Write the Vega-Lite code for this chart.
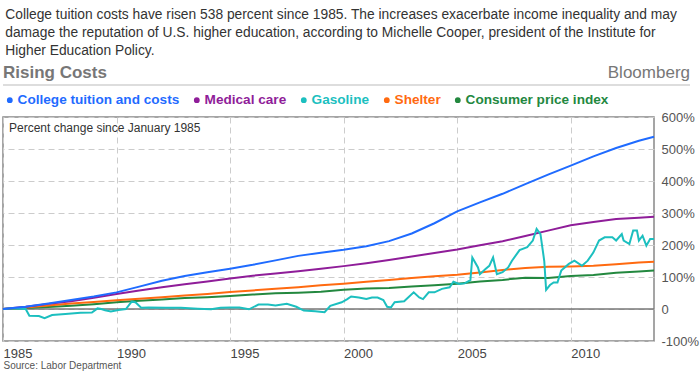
{
  "$schema": "https://vega.github.io/schema/vega-lite/v6.json",
  "padding": {"left": -2, "right": 0, "top": 8, "bottom": 0},
  "background": "white",
  "spacing": 6,
  "resolve": {"scale": {"color": "independent"}, "legend": {"color": "independent"}},
  "config": {
    "font": "Liberation Sans",
    "view": {"stroke": null}
  },
  "title": {
    "text": [
      "College tuition costs have risen 538 percent since 1985. The increases exacerbate income inequality and may",
      "damage the reputation of U.S. higher education, according to Michelle Cooper, president of the Institute for",
      "Higher Education Policy."
    ],
    "anchor": "start",
    "font": "Liberation Sans",
    "fontSize": 13.8,
    "fontWeight": "normal",
    "color": "#333333",
    "lineHeight": 18,
    "offset": 3,
    "dx": 7
  },
  "vconcat": [
    {
      "width": 687,
      "height": 24,
      "view": {"stroke": null},
      "data": {"values": [{"left": "Rising Costs", "right": "Bloomberg"}]},
      "layer": [
        {
          "mark": {"type": "rule", "color": "#dddddd", "strokeWidth": 2},
          "encoding": {
            "x": {"datum": 0, "type": "quantitative", "scale": {"domain": [0, 1]}, "axis": null},
            "x2": {"datum": 1},
            "y": {"datum": 0, "type": "quantitative", "scale": {"domain": [0, 1]}, "axis": null}
          }
        },
        {
          "mark": {"type": "text", "align": "left", "baseline": "alphabetic", "dy": -7, "fontSize": 17, "fontWeight": "bold", "color": "#777777"},
          "encoding": {
            "x": {"datum": 0, "type": "quantitative"},
            "y": {"datum": 0, "type": "quantitative"},
            "text": {"field": "left"}
          }
        },
        {
          "mark": {"type": "text", "align": "right", "baseline": "alphabetic", "dy": -7, "fontSize": 17, "fontWeight": "normal", "color": "#777777"},
          "encoding": {
            "x": {"datum": 1, "type": "quantitative"},
            "y": {"datum": 0, "type": "quantitative"},
            "text": {"field": "right"}
          }
        }
      ]
    },
    {
      "width": 651,
      "height": 224,
      "view": {"stroke": "#888888", "strokeWidth": 1.5},
      "data": {"values": [
        {"date": "1985-01-01", "series": "Consumer price index", "value": 0},
        {"date": "1986-01-01", "series": "Consumer price index", "value": 3},
        {"date": "1987-01-01", "series": "Consumer price index", "value": 6},
        {"date": "1988-01-01", "series": "Consumer price index", "value": 10},
        {"date": "1989-01-01", "series": "Consumer price index", "value": 15},
        {"date": "1990-01-01", "series": "Consumer price index", "value": 21},
        {"date": "1991-01-01", "series": "Consumer price index", "value": 26},
        {"date": "1992-01-01", "series": "Consumer price index", "value": 30},
        {"date": "1993-01-01", "series": "Consumer price index", "value": 34},
        {"date": "1994-01-01", "series": "Consumer price index", "value": 37},
        {"date": "1995-01-01", "series": "Consumer price index", "value": 41},
        {"date": "1996-01-01", "series": "Consumer price index", "value": 45},
        {"date": "1997-01-01", "series": "Consumer price index", "value": 49},
        {"date": "1998-01-01", "series": "Consumer price index", "value": 51},
        {"date": "1999-01-01", "series": "Consumer price index", "value": 54},
        {"date": "2000-01-01", "series": "Consumer price index", "value": 60},
        {"date": "2001-01-01", "series": "Consumer price index", "value": 64},
        {"date": "2002-01-01", "series": "Consumer price index", "value": 66},
        {"date": "2003-01-01", "series": "Consumer price index", "value": 70},
        {"date": "2004-01-01", "series": "Consumer price index", "value": 74},
        {"date": "2005-01-01", "series": "Consumer price index", "value": 79},
        {"date": "2006-01-01", "series": "Consumer price index", "value": 86},
        {"date": "2007-01-01", "series": "Consumer price index", "value": 91},
        {"date": "2008-01-01", "series": "Consumer price index", "value": 98},
        {"date": "2009-01-01", "series": "Consumer price index", "value": 97},
        {"date": "2010-01-01", "series": "Consumer price index", "value": 103},
        {"date": "2011-01-01", "series": "Consumer price index", "value": 106},
        {"date": "2012-01-01", "series": "Consumer price index", "value": 113},
        {"date": "2013-01-01", "series": "Consumer price index", "value": 117},
        {"date": "2013-09-01", "series": "Consumer price index", "value": 120},

        {"date": "1985-01-01", "series": "Shelter", "value": 0},
        {"date": "1986-01-01", "series": "Shelter", "value": 5},
        {"date": "1987-01-01", "series": "Shelter", "value": 11},
        {"date": "1988-01-01", "series": "Shelter", "value": 17},
        {"date": "1989-01-01", "series": "Shelter", "value": 22},
        {"date": "1990-01-01", "series": "Shelter", "value": 27},
        {"date": "1991-01-01", "series": "Shelter", "value": 32},
        {"date": "1992-01-01", "series": "Shelter", "value": 37},
        {"date": "1993-01-01", "series": "Shelter", "value": 42},
        {"date": "1994-01-01", "series": "Shelter", "value": 47},
        {"date": "1995-01-01", "series": "Shelter", "value": 53},
        {"date": "1996-01-01", "series": "Shelter", "value": 58},
        {"date": "1997-01-01", "series": "Shelter", "value": 63},
        {"date": "1998-01-01", "series": "Shelter", "value": 68},
        {"date": "1999-01-01", "series": "Shelter", "value": 74},
        {"date": "2000-01-01", "series": "Shelter", "value": 79},
        {"date": "2001-01-01", "series": "Shelter", "value": 85},
        {"date": "2002-01-01", "series": "Shelter", "value": 91},
        {"date": "2003-01-01", "series": "Shelter", "value": 97},
        {"date": "2004-01-01", "series": "Shelter", "value": 102},
        {"date": "2005-01-01", "series": "Shelter", "value": 107},
        {"date": "2006-01-01", "series": "Shelter", "value": 114},
        {"date": "2007-01-01", "series": "Shelter", "value": 122},
        {"date": "2008-01-01", "series": "Shelter", "value": 128},
        {"date": "2009-01-01", "series": "Shelter", "value": 132},
        {"date": "2010-01-01", "series": "Shelter", "value": 133},
        {"date": "2011-01-01", "series": "Shelter", "value": 135},
        {"date": "2012-01-01", "series": "Shelter", "value": 140},
        {"date": "2013-01-01", "series": "Shelter", "value": 145},
        {"date": "2013-09-01", "series": "Shelter", "value": 148},

        {"date": "1985-01-01", "series": "Medical care", "value": 0},
        {"date": "1986-01-01", "series": "Medical care", "value": 7},
        {"date": "1987-01-01", "series": "Medical care", "value": 16},
        {"date": "1988-01-01", "series": "Medical care", "value": 24},
        {"date": "1989-01-01", "series": "Medical care", "value": 35},
        {"date": "1990-01-01", "series": "Medical care", "value": 47},
        {"date": "1991-01-01", "series": "Medical care", "value": 58},
        {"date": "1992-01-01", "series": "Medical care", "value": 68},
        {"date": "1993-01-01", "series": "Medical care", "value": 77},
        {"date": "1994-01-01", "series": "Medical care", "value": 86},
        {"date": "1995-01-01", "series": "Medical care", "value": 95},
        {"date": "1996-01-01", "series": "Medical care", "value": 104},
        {"date": "1997-01-01", "series": "Medical care", "value": 111},
        {"date": "1998-01-01", "series": "Medical care", "value": 118},
        {"date": "1999-01-01", "series": "Medical care", "value": 126},
        {"date": "2000-01-01", "series": "Medical care", "value": 134},
        {"date": "2001-01-01", "series": "Medical care", "value": 143},
        {"date": "2002-01-01", "series": "Medical care", "value": 153},
        {"date": "2003-01-01", "series": "Medical care", "value": 164},
        {"date": "2004-01-01", "series": "Medical care", "value": 175},
        {"date": "2005-01-01", "series": "Medical care", "value": 186},
        {"date": "2006-01-01", "series": "Medical care", "value": 199},
        {"date": "2007-01-01", "series": "Medical care", "value": 212},
        {"date": "2008-01-01", "series": "Medical care", "value": 228},
        {"date": "2009-01-01", "series": "Medical care", "value": 245},
        {"date": "2010-01-01", "series": "Medical care", "value": 262},
        {"date": "2011-01-01", "series": "Medical care", "value": 272},
        {"date": "2012-01-01", "series": "Medical care", "value": 281},
        {"date": "2013-01-01", "series": "Medical care", "value": 285},
        {"date": "2013-09-01", "series": "Medical care", "value": 288},

        {"date": "1985-01-01", "series": "Gasoline", "value": 0},
        {"date": "1985-06-01", "series": "Gasoline", "value": 2},
        {"date": "1986-01-01", "series": "Gasoline", "value": 0},
        {"date": "1986-03-01", "series": "Gasoline", "value": -21},
        {"date": "1986-08-01", "series": "Gasoline", "value": -22},
        {"date": "1986-11-01", "series": "Gasoline", "value": -29},
        {"date": "1987-03-01", "series": "Gasoline", "value": -19},
        {"date": "1987-10-01", "series": "Gasoline", "value": -16},
        {"date": "1988-06-01", "series": "Gasoline", "value": -12},
        {"date": "1988-12-01", "series": "Gasoline", "value": -11},
        {"date": "1989-03-01", "series": "Gasoline", "value": 2},
        {"date": "1989-05-01", "series": "Gasoline", "value": 0},
        {"date": "1989-07-01", "series": "Gasoline", "value": -4},
        {"date": "1989-10-01", "series": "Gasoline", "value": -8},
        {"date": "1990-02-01", "series": "Gasoline", "value": -3},
        {"date": "1990-06-01", "series": "Gasoline", "value": 0},
        {"date": "1990-09-01", "series": "Gasoline", "value": 23},
        {"date": "1990-11-01", "series": "Gasoline", "value": 21},
        {"date": "1991-02-01", "series": "Gasoline", "value": 4},
        {"date": "1991-06-01", "series": "Gasoline", "value": 5},
        {"date": "1992-03-01", "series": "Gasoline", "value": 4},
        {"date": "1992-11-01", "series": "Gasoline", "value": 4},
        {"date": "1993-08-01", "series": "Gasoline", "value": 1},
        {"date": "1994-03-01", "series": "Gasoline", "value": -1},
        {"date": "1994-08-01", "series": "Gasoline", "value": 4},
        {"date": "1995-01-01", "series": "Gasoline", "value": 5},
        {"date": "1995-06-01", "series": "Gasoline", "value": 5},
        {"date": "1995-11-01", "series": "Gasoline", "value": -1},
        {"date": "1996-04-01", "series": "Gasoline", "value": 14},
        {"date": "1996-09-01", "series": "Gasoline", "value": 14},
        {"date": "1997-01-01", "series": "Gasoline", "value": 11},
        {"date": "1997-07-01", "series": "Gasoline", "value": 16},
        {"date": "1997-12-01", "series": "Gasoline", "value": 7},
        {"date": "1998-04-01", "series": "Gasoline", "value": -5},
        {"date": "1998-10-01", "series": "Gasoline", "value": -7},
        {"date": "1999-03-01", "series": "Gasoline", "value": -10},
        {"date": "1999-06-01", "series": "Gasoline", "value": 10},
        {"date": "1999-12-01", "series": "Gasoline", "value": 21},
        {"date": "2000-03-01", "series": "Gasoline", "value": 31},
        {"date": "2000-05-01", "series": "Gasoline", "value": 39},
        {"date": "2000-09-01", "series": "Gasoline", "value": 36},
        {"date": "2001-01-01", "series": "Gasoline", "value": 31},
        {"date": "2001-04-01", "series": "Gasoline", "value": 36},
        {"date": "2001-07-01", "series": "Gasoline", "value": 36},
        {"date": "2001-10-01", "series": "Gasoline", "value": 28},
        {"date": "2001-12-01", "series": "Gasoline", "value": 7},
        {"date": "2002-02-01", "series": "Gasoline", "value": 5},
        {"date": "2002-04-01", "series": "Gasoline", "value": 21},
        {"date": "2002-09-01", "series": "Gasoline", "value": 24},
        {"date": "2003-02-01", "series": "Gasoline", "value": 52},
        {"date": "2003-05-01", "series": "Gasoline", "value": 36},
        {"date": "2003-07-01", "series": "Gasoline", "value": 31},
        {"date": "2003-10-01", "series": "Gasoline", "value": 52},
        {"date": "2004-01-01", "series": "Gasoline", "value": 52},
        {"date": "2004-05-01", "series": "Gasoline", "value": 63},
        {"date": "2004-09-01", "series": "Gasoline", "value": 68},
        {"date": "2004-11-01", "series": "Gasoline", "value": 85},
        {"date": "2005-02-01", "series": "Gasoline", "value": 78},
        {"date": "2005-05-01", "series": "Gasoline", "value": 80},
        {"date": "2005-08-01", "series": "Gasoline", "value": 90},
        {"date": "2005-09-01", "series": "Gasoline", "value": 161},
        {"date": "2005-12-01", "series": "Gasoline", "value": 130},
        {"date": "2006-01-01", "series": "Gasoline", "value": 109},
        {"date": "2006-04-01", "series": "Gasoline", "value": 125},
        {"date": "2006-06-01", "series": "Gasoline", "value": 135},
        {"date": "2006-08-01", "series": "Gasoline", "value": 161},
        {"date": "2006-10-01", "series": "Gasoline", "value": 109},
        {"date": "2007-01-01", "series": "Gasoline", "value": 115},
        {"date": "2007-04-01", "series": "Gasoline", "value": 130},
        {"date": "2007-06-01", "series": "Gasoline", "value": 151},
        {"date": "2007-10-01", "series": "Gasoline", "value": 184},
        {"date": "2008-02-01", "series": "Gasoline", "value": 193},
        {"date": "2008-05-01", "series": "Gasoline", "value": 214},
        {"date": "2008-07-01", "series": "Gasoline", "value": 250},
        {"date": "2008-09-01", "series": "Gasoline", "value": 234},
        {"date": "2008-11-01", "series": "Gasoline", "value": 150},
        {"date": "2008-12-01", "series": "Gasoline", "value": 60},
        {"date": "2009-02-01", "series": "Gasoline", "value": 75},
        {"date": "2009-04-01", "series": "Gasoline", "value": 83},
        {"date": "2009-06-01", "series": "Gasoline", "value": 83},
        {"date": "2009-08-01", "series": "Gasoline", "value": 120},
        {"date": "2009-12-01", "series": "Gasoline", "value": 141},
        {"date": "2010-03-01", "series": "Gasoline", "value": 151},
        {"date": "2010-07-01", "series": "Gasoline", "value": 135},
        {"date": "2010-10-01", "series": "Gasoline", "value": 151},
        {"date": "2011-01-01", "series": "Gasoline", "value": 177},
        {"date": "2011-04-01", "series": "Gasoline", "value": 214},
        {"date": "2011-07-01", "series": "Gasoline", "value": 224},
        {"date": "2011-11-01", "series": "Gasoline", "value": 224},
        {"date": "2012-01-01", "series": "Gasoline", "value": 214},
        {"date": "2012-04-01", "series": "Gasoline", "value": 234},
        {"date": "2012-05-01", "series": "Gasoline", "value": 214},
        {"date": "2012-08-01", "series": "Gasoline", "value": 203},
        {"date": "2012-10-01", "series": "Gasoline", "value": 245},
        {"date": "2012-12-01", "series": "Gasoline", "value": 245},
        {"date": "2013-01-01", "series": "Gasoline", "value": 214},
        {"date": "2013-03-01", "series": "Gasoline", "value": 229},
        {"date": "2013-05-01", "series": "Gasoline", "value": 198},
        {"date": "2013-07-01", "series": "Gasoline", "value": 219},
        {"date": "2013-09-01", "series": "Gasoline", "value": 219},

        {"date": "1985-01-01", "series": "College tuition and costs", "value": 0},
        {"date": "1986-01-01", "series": "College tuition and costs", "value": 7},
        {"date": "1987-01-01", "series": "College tuition and costs", "value": 17},
        {"date": "1988-01-01", "series": "College tuition and costs", "value": 28},
        {"date": "1989-01-01", "series": "College tuition and costs", "value": 39},
        {"date": "1990-01-01", "series": "College tuition and costs", "value": 52},
        {"date": "1991-01-01", "series": "College tuition and costs", "value": 70},
        {"date": "1992-01-01", "series": "College tuition and costs", "value": 88},
        {"date": "1993-01-01", "series": "College tuition and costs", "value": 103},
        {"date": "1994-01-01", "series": "College tuition and costs", "value": 115},
        {"date": "1995-01-01", "series": "College tuition and costs", "value": 126},
        {"date": "1996-01-01", "series": "College tuition and costs", "value": 138},
        {"date": "1997-01-01", "series": "College tuition and costs", "value": 152},
        {"date": "1998-01-01", "series": "College tuition and costs", "value": 166},
        {"date": "1999-01-01", "series": "College tuition and costs", "value": 176},
        {"date": "2000-01-01", "series": "College tuition and costs", "value": 185},
        {"date": "2001-01-01", "series": "College tuition and costs", "value": 196},
        {"date": "2002-01-01", "series": "College tuition and costs", "value": 212},
        {"date": "2003-01-01", "series": "College tuition and costs", "value": 236},
        {"date": "2004-01-01", "series": "College tuition and costs", "value": 268},
        {"date": "2005-01-01", "series": "College tuition and costs", "value": 305},
        {"date": "2006-01-01", "series": "College tuition and costs", "value": 333},
        {"date": "2007-01-01", "series": "College tuition and costs", "value": 360},
        {"date": "2008-01-01", "series": "College tuition and costs", "value": 390},
        {"date": "2009-01-01", "series": "College tuition and costs", "value": 420},
        {"date": "2010-01-01", "series": "College tuition and costs", "value": 448},
        {"date": "2011-01-01", "series": "College tuition and costs", "value": 477},
        {"date": "2012-01-01", "series": "College tuition and costs", "value": 503},
        {"date": "2013-01-01", "series": "College tuition and costs", "value": 526},
        {"date": "2013-09-01", "series": "College tuition and costs", "value": 538}
      ]},
      "layer": [
        {
          "data": {"values": [{"label": "Percent change since January 1985"}]},
          "mark": {"type": "rect", "fill": "white", "strokeWidth": 0},
          "encoding": {
            "x": {"datum": "1985-01-20", "type": "temporal"},
            "x2": {"datum": "1993-06-01"},
            "y": {"datum": 503, "type": "quantitative"},
            "y2": {"datum": 598}
          }
        },
        {
          "data": {"values": [{"label": "Percent change since January 1985"}]},
          "mark": {"type": "text", "align": "left", "baseline": "top", "dx": 6, "dy": 6, "fontSize": 12, "color": "#333333"},
          "encoding": {
            "x": {"datum": "1985-01-01", "type": "temporal"},
            "y": {"datum": 600, "type": "quantitative"},
            "text": {"field": "label"}
          }
        },
        {
          "data": {"values": [{"label": "zero"}]},
          "mark": {"type": "rule", "color": "#777777", "strokeWidth": 1.5},
          "encoding": {
            "y": {"datum": 0, "type": "quantitative"}
          }
        },
        {
          "mark": {"type": "line", "strokeWidth": 2, "interpolate": "linear"},
          "encoding": {
            "x": {
              "field": "date",
              "type": "temporal",
              "scale": {"domain": ["1985-01-01", "2013-09-01"], "nice": false},
              "axis": {
                "orient": "bottom",
                "values": [{"year": 1985}, {"year": 1990}, {"year": 1995}, {"year": 2000}, {"year": 2005}, {"year": 2010}],
                "tickCount": 20,
                "format": "%Y",
                "labelAlign": "left",
                "labelFlush": false,
                "labelOverlap": false,
                "labelPadding": 6,
                "labelFontSize": 13,
                "labelColor": "#444444",
                "ticks": false,
                "domain": false,
                "grid": true,
                "gridDash": [6, 4],
                "gridColor": "#cccccc",
                "gridWidth": 1,
                "title": "Source: Labor Department",
                "titleAnchor": "start",
                "titleAlign": "left",
                "titleFontSize": 10,
                "titleFontWeight": "normal",
                "titleColor": "#555555",
                "titlePadding": 0
              }
            },
            "y": {
              "field": "value",
              "type": "quantitative",
              "scale": {"domain": [-100, 600], "nice": false},
              "axis": {
                "orient": "right",
                "values": [-100, 0, 100, 200, 300, 400, 500, 600],
                "tickCount": 20,
                "labelExpr": "datum.value == 0 ? '0' : datum.value + '%'",
                "labelOverlap": false,
                "labelFlush": false,
                "labelFontSize": 13,
                "labelColor": "#555555",
                "labelPadding": 7,
                "ticks": false,
                "domain": false,
                "grid": true,
                "gridDash": [6, 4],
                "gridColor": "#cccccc",
                "gridWidth": 1,
                "title": null
              }
            },
            "color": {
              "field": "series",
              "type": "nominal",
              "sort": null,
              "scale": {
                "domain": ["College tuition and costs", "Medical care", "Gasoline", "Shelter", "Consumer price index"],
                "range": ["#1f6bff", "#8f1d99", "#1cbfbf", "#ff6a10", "#23883f"]
              },
              "legend": {
                "orient": "top",
                "direction": "horizontal",
                "title": null,
                "symbolType": "circle",
                "symbolSize": 8,
                "symbolStrokeWidth": 3,
                "labelFontSize": 13.6,
                "labelFontWeight": "bold",
                "labelLimit": 400,
                "labelOffset": 1,
                "columnPadding": 9,
                "offset": 9,
                "padding": 0,
                "labelColor": {"expr": "datum.label == 'College tuition and costs' ? '#1f6bff' : datum.label == 'Medical care' ? '#8f1d99' : datum.label == 'Gasoline' ? '#1cbfbf' : datum.label == 'Shelter' ? '#ff6a10' : '#23883f'"}
              }
            }
          }
        }
      ]
    }
  ]
}
